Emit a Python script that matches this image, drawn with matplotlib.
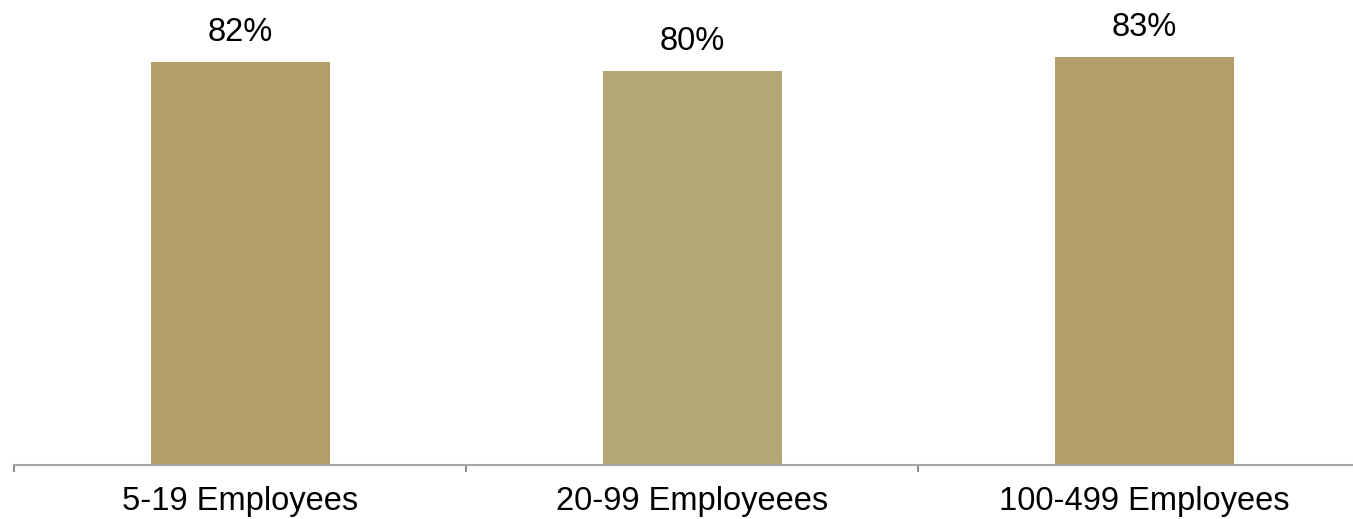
import numpy as np
import matplotlib
matplotlib.use("Agg")
import matplotlib.pyplot as plt

categories = ["5-19 Employees", "20-99 Employeees", "100-499 Employees"]
values = [82, 80, 83]
labels = ["82%", "80%", "83%"]
colors = ["#B39E6C", "#B5A776", "#B39E6C"]

plt.rcParams['font.family'] = ['Liberation Sans', 'DejaVu Sans']

W, H = 1353, 519
fig = plt.figure(figsize=(W / 100.0, H / 100.0), dpi=100)
ax = fig.add_axes([14.0 / W, 1 - 465.0 / H, 1 - 14.0 / W, 465.0 / H])

x = np.arange(len(values))
bars = ax.bar(x, values, width=0.396, color=colors, zorder=2)

for b, lab in zip(bars, labels):
    ax.annotate(lab, (b.get_x() + b.get_width() / 2, b.get_height()),
                xytext=(0, 21), textcoords='offset pixels',
                ha='center', va='baseline', fontsize=23.5, color='black',
                annotation_clip=False)

ax.set_xlim(-0.5, 2.462)
ax.set_ylim(0, 94.5)

# category boundaries as tick marks, labels in between
ax.set_xticks([-0.5, 0.5, 1.5])
ax.set_xticklabels([])
ax.set_xticks(x, minor=True)
ax.set_xticklabels(categories, minor=True, fontsize=23.5)
ax.tick_params(axis='x', which='major', length=5, width=1.5, color='#8C8C8C',
               direction='out')
ax.tick_params(axis='x', which='minor', length=0, pad=15)
ax.set_yticks([])

for s in ['top', 'right', 'left']:
    ax.spines[s].set_visible(False)
ax.spines['bottom'].set_color('#A6A6A6')
ax.spines['bottom'].set_linewidth(1.5)
ax.spines['bottom'].set_zorder(3)

fig.savefig("out.png", dpi=100)
